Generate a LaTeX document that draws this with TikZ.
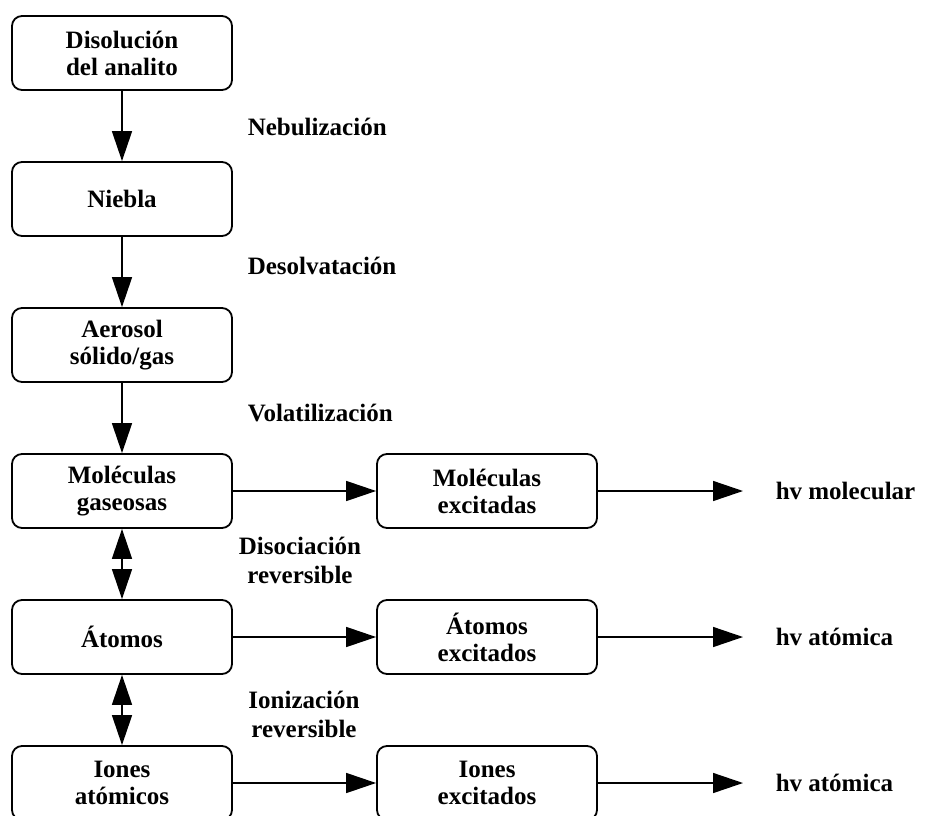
\documentclass[tikz,border=0pt]{standalone}
\usepackage{fontspec}
\setmainfont{Liberation Serif}
\usetikzlibrary{arrows.meta}
\begin{document}
\begin{tikzpicture}[x=1pt, y=-1pt, font=\fontsize{25}{27}\selectfont\bfseries, line cap=round, line join=round,
  >={Triangle[length=30pt,width=20pt]}, line width=1.5pt,
  caja/.style={draw, line width=1.8pt, rounded corners=10pt, minimum width=220pt, minimum height=74pt, align=center, inner sep=0pt},
  paso/.style={anchor=west, inner sep=0pt},
  rev/.style={align=center, font=\fontsize{25}{29}\selectfont\bfseries}]
\useasboundingbox (0,0) rectangle (926,816);
% columna principal
\node[caja] (dis) at (122,53) {Disolución\\del analito};
\node[caja] (nie) at (122,199) {Niebla};
\node[caja] (aer) at (122,345) {Aerosol\\sólido/gas};
\node[caja] (mol) at (122,491) {Moléculas\\gaseosas};
\node[caja] (ato) at (122,637) {Átomos};
\node[caja] (ion) at (122,783) {Iones\\atómicos};
% especies excitadas
\node[caja] (molx) at (487,491) {Moléculas\\excitadas};
\node[caja] (atox) at (487,637) {Átomos\\excitados};
\node[caja] (ionx) at (487,783) {Iones\\excitados};
% emision
\node[paso] (hvm) at (775,491) {hv molecular};
\node[paso] (hva) at (775,637) {hv atómica};
\node[paso] (hvi) at (775,783) {hv atómica};
\coordinate (fm) at (743,491);
\coordinate (fa) at (743,637);
\coordinate (fi) at (743,783);
% procesos
\node[paso] (neb) at (247,127) {Nebulización};
\node[paso] (des) at (247,266) {Desolvatación};
\node[paso] (vol) at (247,413) {Volatilización};
\node[rev] (diso) at (300,560) {Disociación\\reversible};
\node[rev] (ioni) at (304,714) {Ionización\\reversible};

\foreach \a/\b in {dis/nie, nie/aer, aer/mol, mol/molx, ato/atox, ion/ionx, molx/fm, atox/fa, ionx/fi}
\draw[->] (\a) -- (\b);
\foreach \a/\b in {mol/ato, ato/ion}
\draw[<->] (\a) -- (\b);
\end{tikzpicture}
\end{document}
